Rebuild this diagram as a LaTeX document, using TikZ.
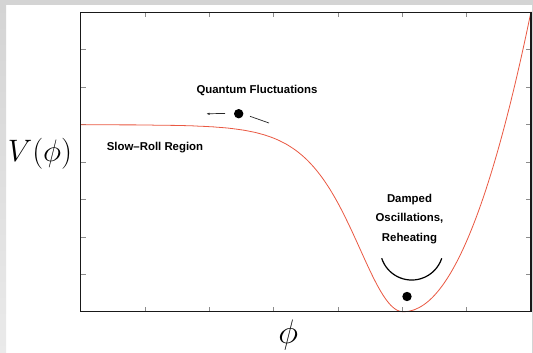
\documentclass[tikz,border=0pt]{standalone}
\usepackage{fix-cm}
\usepackage{fontspec}
\newfontfamily\labfont{Liberation Sans}
\usetikzlibrary{arrows.meta}
\definecolor{curvered}{RGB}{234,88,66}
\definecolor{stripgrey}{RGB}{212,212,212}
\definecolor{stripgreylow}{RGB}{234,234,234}
\definecolor{tickgrey}{RGB}{140,140,140}
\definecolor{inkgrey}{RGB}{40,40,40}
\begin{document}
\begin{tikzpicture}[x=1pt,y=-1pt,
  lab/.style={font=\labfont\bfseries\fontsize{11.4}{19.4}\selectfont, inner sep=0pt, align=center},
  mathlab/.style={inner sep=0pt},
  tickmark/.style={draw=tickgrey, line width=0.7pt},
  framebox/.style={draw=black!90, line width=1.3pt},
  potential/.style={draw=curvered, line width=0.8pt},
  ball/.style={circle, fill=black, minimum size=9.4pt, inner sep=0pt},
  smallarrow/.style={draw=inkgrey, line width=0.7pt, -{Latex[length=3pt,width=2.6pt]}},
  thinline/.style={draw=inkgrey, line width=0.7pt},
  bowl/.style={draw=black, line width=1.2pt}]
\useasboundingbox (0,0) rectangle (533,353);
\fill[white] (0,0) rectangle (533,353);
\fill[stripgrey] (0,0) rectangle (533,4.7);
\shade[top color=stripgrey, bottom color=stripgreylow] (0,4.7) rectangle (6,353);
\fill[stripgrey] (532.2,4.7) rectangle (533,353);
% ticks
\foreach \k in {1,...,6} {
  \draw[tickmark] ({80.7+\k*64.33},311.7) -- ++(0,-5);
  \draw[tickmark] ({80.7+\k*64.33},12.3) -- ++(0,5);
}
\foreach \k in {1,...,7} {
  \draw[tickmark] (80.7,{12.3+\k*37.43}) -- ++(5,0);
  \draw[tickmark] (531,{12.3+\k*37.43}) -- ++(-5,0);
}
% potential curve
\draw[potential] plot[domain=80.7:403,samples=160] (\x,{311.7-187*((1-exp(-2*(403-\x)/65))/(1+exp(-2*(403-\x)/65)))^2})
  -- plot[domain=403.2:531,samples=90] (\x,{311.7-180*((\x-403)/100)^2.07});
% frame
\draw[framebox] (80.7,12.3) rectangle (531,311.7);
% labels
\node[lab] (qf) at (257,90.5) {Quantum Fluctuations};
\node[lab] (sr) at (155,148) {Slow–Roll Region};
\node[lab] (dor) at (409.5,219) {Damped\\Oscillations,\\Reheating};
\node[mathlab, anchor=base] (vlab) at (40,161.7) {\fontsize{31}{31}\selectfont$V(\phi)$};
\node[mathlab] (philab) at (288.3,335.3) {\fontsize{34}{34}\selectfont$\phi$};
% balls
\node[ball] (topball) at (238.7,113.7) {};
\node[ball] (botball) at (407,296.5) {};
% fluctuation arrows
\coordinate (la1) at (225,113.4);
\coordinate (la2) at (206.5,113.8);
\draw[smallarrow] (la1) -- (la2);
\coordinate (ra1) at (250,116.3);
\coordinate (ra2) at (269,123);
\draw[thinline] (ra1) -- (ra2);
% oscillation bowl
\draw[bowl] (381.7,258.3) arc[start angle=161.8, end angle=18.2, radius=31.6];
\end{tikzpicture}
\end{document}
